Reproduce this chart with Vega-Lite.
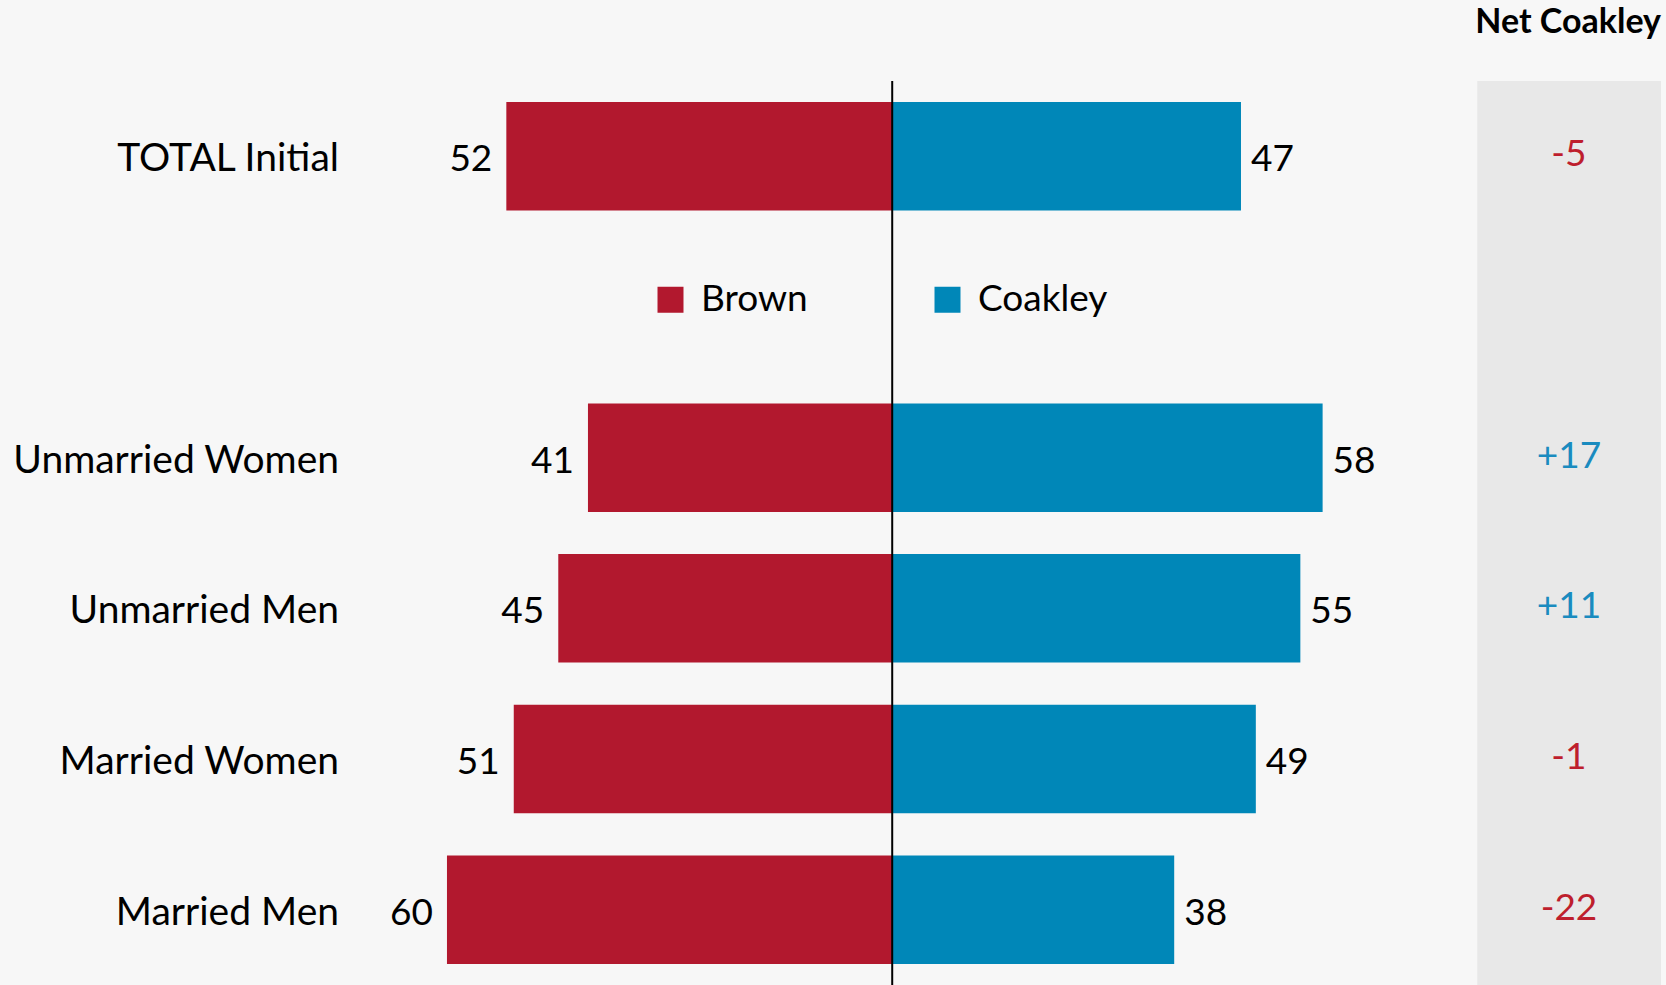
{
  "$schema": "https://vega.github.io/schema/vega-lite/v6.json",
  "width": 1310.5,
  "height": 904,
  "autosize": {"type": "none"},
  "padding": {"left": 350.5, "top": 81, "right": 5.5, "bottom": 0},
  "background": "#F7F7F7",
  "config": {"view": {"stroke": null}, "font": "Lato"},
  "title": {"text": "Net Coakley", "anchor": "end", "frame": "group", "fontSize": 34, "fontWeight": "bold", "font": "Lato", "color": "#000000", "offset": 13, "baseline": "alphabetic"},
  "datasets": {
    "bars": [
      {"group": "TOTAL Initial", "candidate": "Brown", "value": 52},
      {"group": "TOTAL Initial", "candidate": "Coakley", "value": 47},
      {"group": "Unmarried Women", "candidate": "Brown", "value": 41},
      {"group": "Unmarried Women", "candidate": "Coakley", "value": 58},
      {"group": "Unmarried Men", "candidate": "Brown", "value": 45},
      {"group": "Unmarried Men", "candidate": "Coakley", "value": 55},
      {"group": "Married Women", "candidate": "Brown", "value": 51},
      {"group": "Married Women", "candidate": "Coakley", "value": 49},
      {"group": "Married Men", "candidate": "Brown", "value": 60},
      {"group": "Married Men", "candidate": "Coakley", "value": 38}
    ],
    "net": [
      {"group": "TOTAL Initial", "net": -5, "label": "-5"},
      {"group": "Unmarried Women", "net": 17, "label": "+17"},
      {"group": "Unmarried Men", "net": 11, "label": "+11"},
      {"group": "Married Women", "net": -1, "label": "-1"},
      {"group": "Married Men", "net": -22, "label": "-22"}
    ]
  },
  "encoding": {
    "y": {
      "field": "group", "type": "nominal", "title": null,
      "scale": {"domain": ["TOTAL Initial", "gap", "Unmarried Women", "Unmarried Men", "Married Women", "Married Men"], "paddingInner": 0.28, "paddingOuter": 0.14},
      "axis": {"labelExpr": "datum.value == 'gap' ? '' : datum.value", "ticks": false, "domain": false, "labelPadding": 12, "labelOffset": 3, "labelFontSize": 39, "labelFont": "Lato", "labelColor": "#000000", "labelLimit": 400, "title": null}
    }
  },
  "layer": [
    {
      "data": {"values": [{}]},
      "mark": {"type": "rect", "color": "#E8E8E8"},
      "encoding": {
        "y": null,
        "x": {"datum": 78.84, "type": "quantitative", "scale": {"domain": [-73, 103.6], "nice": false, "zero": false}, "axis": null},
        "x2": {"datum": 103.6}
      }
    },
    {
      "data": {"name": "bars"},
      "transform": [{"calculate": "datum.candidate == 'Brown' ? -datum.value : datum.value", "as": "signed"}],
      "mark": {"type": "bar"},
      "encoding": {
        "x": {"field": "signed", "type": "quantitative"},
        "color": {
          "field": "candidate", "type": "nominal",
          "scale": {"domain": ["Brown", "Coakley"], "range": ["#B2182E", "#0087B8"]},
          "legend": {"orient": "none", "legendX": 301.5, "legendY": 200, "direction": "horizontal", "columns": 2, "title": null, "symbolType": "square", "symbolSize": 676, "symbolStrokeWidth": 0, "labelFontSize": 37, "labelFont": "Lato", "labelColor": "#000000", "labelOffset": 12, "columnPadding": 121, "padding": 0}
        }
      }
    },
    {
      "data": {"values": [{}]},
      "mark": {"type": "rule", "color": "#000000", "strokeWidth": 2},
      "encoding": {"y": null, "x": {"datum": 0, "type": "quantitative"}}
    },
    {
      "data": {"name": "bars"},
      "transform": [{"filter": "datum.candidate == 'Brown'"}, {"calculate": "-datum.value", "as": "signed"}],
      "mark": {"type": "text", "align": "right", "baseline": "middle", "dx": -14, "dy": 4, "fontSize": 37, "font": "Lato", "color": "#000000"},
      "encoding": {"x": {"field": "signed", "type": "quantitative"}, "text": {"field": "value"}}
    },
    {
      "data": {"name": "bars"},
      "transform": [{"filter": "datum.candidate == 'Coakley'"}],
      "mark": {"type": "text", "align": "left", "baseline": "middle", "dx": 10, "dy": 4, "fontSize": 37, "font": "Lato", "color": "#000000"},
      "encoding": {"x": {"field": "value", "type": "quantitative"}, "text": {"field": "value"}}
    },
    {
      "data": {"name": "net"},
      "mark": {"type": "text", "align": "center", "baseline": "middle", "dy": -1, "fontSize": 37, "font": "Lato"},
      "encoding": {
        "x": {"datum": 91.2, "type": "quantitative"},
        "text": {"field": "label"},
        "color": {"condition": {"test": "datum.net < 0", "value": "#BE1E2D"}, "value": "#1A8BBF"}
      }
    }
  ]
}
